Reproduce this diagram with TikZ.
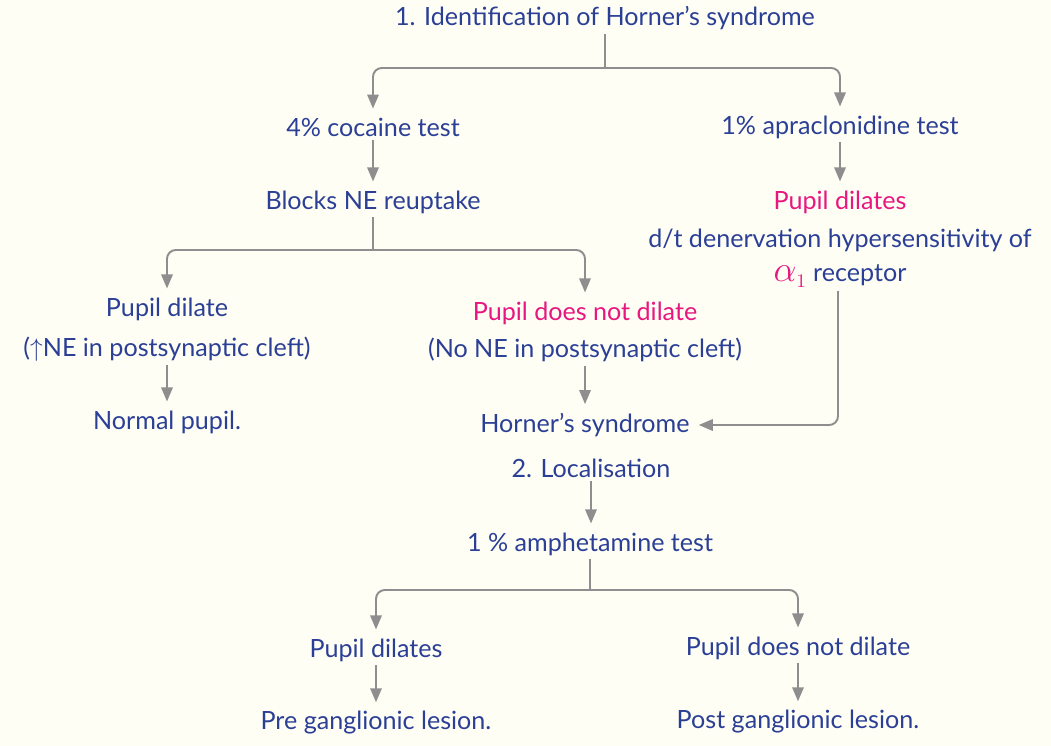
\documentclass[tikz,border=0pt]{standalone}
\usepackage{fontspec}
\setmainfont{Lato}
\usepackage{tikz}
\usepackage{xcolor}
\usetikzlibrary{positioning,arrows.meta}

\definecolor{inkblue}{HTML}{2B3F96}
\definecolor{inkpink}{HTML}{E8177F}
\definecolor{linegray}{HTML}{8E8E8E}
\definecolor{paper}{HTML}{FEFEF4}

\begin{document}
\begin{tikzpicture}[
        x=0.02cm, y=-0.02cm,
        txt/.style={text=inkblue, font=\fontsize{14.3}{17}\selectfont, inner sep=2pt},
        hot/.style={txt, text=inkpink},
        link/.style={draw=linegray, line width=1.1pt, rounded corners=5pt},
        arr/.style={link, -{Triangle[length=8pt, width=6.5pt]}, shorten >=3pt}
    ]
        % Page
        \fill[paper] (0,0) rectangle (1051,746);
        \useasboundingbox (0,0) rectangle (1051,746);

        % Identification
        \node[txt] (ident) at (605,18) {1. Identification of Horner's syndrome};
        \node[txt] (cocaine) at (373,127) {4\% cocaine test};
        \node[txt] (apra) at (840,127) {1\% apraclonidine test};
        \coordinate (split1) at (605,68);
        \draw[link] (ident) -- (split1);
        \draw[arr] (split1) -| (cocaine);
        \draw[arr] (split1) -| (apra);

        % Cocaine branch
        \node[txt] (blocks) at (373,202) {Blocks NE reuptake};
        \draw[arr] (cocaine) -- (blocks);
        \node[txt] (dilate) at (167,309) {Pupil dilate};
        \node[txt] (moreNE) at (167,349) {($\uparrow$NE in postsynaptic cleft)};
        \node[txt] (normal) at (167,422) {Normal pupil.};
        \node[hot] (nodilate) at (585,313) {Pupil does not dilate};
        \node[txt] (noNE) at (585,350) {(No NE in postsynaptic cleft)};
        \coordinate (split2) at (373,250);
        \draw[link] (blocks) -- (split2);
        \draw[arr] (split2) -| (dilate);
        \draw[arr] (split2) -| (nodilate);
        \draw[arr] (moreNE) -- (normal);

        % Apraclonidine branch
        \node[hot] (apradil) at (840,202) {Pupil dilates};
        \node[txt] (denerv) at (840,240) {d/t denervation hypersensitivity of};
        \node[txt] (alpha) at (840,276) {\textcolor{inkpink}{\fontsize{22}{22}\selectfont$\alpha_{\scriptscriptstyle 1}$} receptor};
        \draw[arr] (apra) -- (apradil);

        % Horner's syndrome
        \node[txt] (horner) at (585,425) {Horner's syndrome};
        \draw[arr] (noNE) -- (horner);
        \draw[arr] (alpha.south -| 838,0) |- (horner);

        % Localisation
        \node[txt] (local) at (591,468) {2. Localisation};
        \node[txt] (amph) at (590,544) {1 \% amphetamine test};
        \draw[arr] (local) -- (amph.north -| local);
        \node[txt] (predil) at (376,650) {Pupil dilates};
        \node[txt] (postdil) at (798,648) {Pupil does not dilate};
        \coordinate (split3) at (590,590);
        \draw[link] (amph) -- (split3);
        \draw[arr] (split3) -| (predil);
        \draw[arr] (split3) -| (postdil);
        \node[txt] (pre) at (376,723) {Pre ganglionic lesion.};
        \node[txt] (post) at (798,722) {Post ganglionic lesion.};
        \draw[arr] (predil) -- (pre);
        \draw[arr] (postdil) -- (post);

    \end{tikzpicture}
\end{document}
